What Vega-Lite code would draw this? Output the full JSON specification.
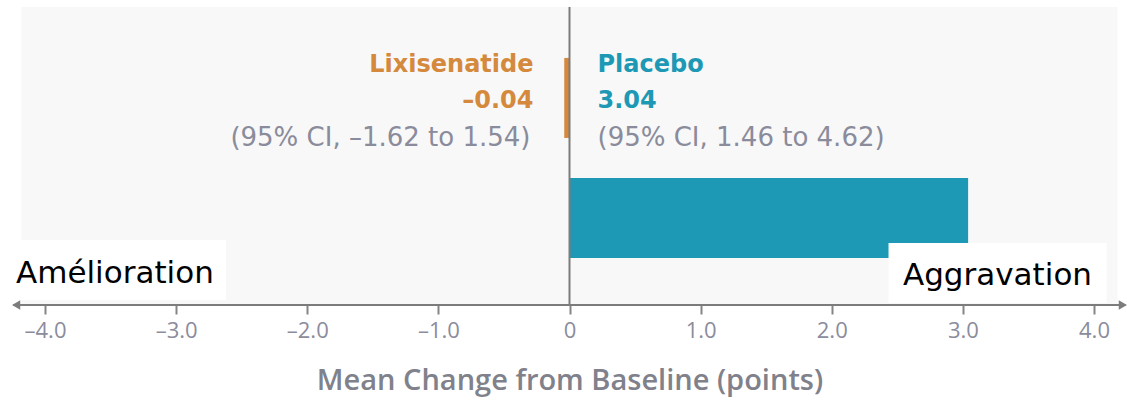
{
  "$schema": "https://vega.github.io/schema/vega-lite/v6.json",
  "autosize": {"type": "none"},
  "width": 1049,
  "height": 298,
  "padding": {"left": 45, "right": 33, "top": 7, "bottom": 104},
  "background": "#ffffff",
  "config": {"view": {"stroke": null}},
  "datasets": {
    "arms": [
      {"arm": "Lixisenatide", "change": -0.04},
      {"arm": "Placebo", "change": 3.04}
    ],
    "labels": [
      {"arm": "Lixisenatide", "name": "Lixisenatide", "value": "–0.04", "ci": "(95% CI, –1.62 to 1.54)"},
      {"arm": "Placebo", "name": "Placebo", "value": "3.04", "ci": "(95% CI, 1.46 to 4.62)"}
    ],
    "notes": [
      {"side": "left", "text": "Amélioration"},
      {"side": "right", "text": "Aggravation"}
    ]
  },
  "encoding": {
    "x": {
      "type": "quantitative",
      "scale": {"domain": [-4, 4], "nice": false},
      "axis": {
        "title": "Mean Change from Baseline (points)",
        "values": [-4, -3, -2, -1, 0, 1, 2, 3, 4],
        "labelExpr": "datum.value === 0 ? '0' : (datum.value < 0 ? '–' + format(-datum.value, '.1f') : format(datum.value, '.1f'))",
        "domain": false,
        "grid": false,
        "ticks": true,
        "tickColor": "#858585",
        "tickWidth": 2,
        "tickSize": 9,
        "labelFont": "Open Sans",
        "labelFontSize": 22,
        "labelColor": "#8b8c9c",
        "labelPadding": 6,
        "labelFlush": false,
        "titleFont": "Open Sans",
        "titleFontWeight": 600,
        "titleFontSize": 29,
        "titleColor": "#80818b",
        "titlePadding": 25
      }
    }
  },
  "layer": [
    {
      "data": {"values": [{}]},
      "mark": {"type": "rect", "color": "#f8f8f8"},
      "encoding": {
        "x": {"datum": -4.18},
        "x2": {"datum": 4.18},
        "y": {"value": 0},
        "y2": {"value": "height"}
      }
    },
    {
      "data": {"name": "arms"},
      "mark": {"type": "bar"},
      "encoding": {
        "x": {"field": "change", "type": "quantitative"},
        "y": {
          "field": "arm",
          "type": "nominal",
          "sort": ["Lixisenatide", "Placebo"],
          "scale": {"paddingInner": 0.3333, "paddingOuter": 0.408, "align": 0.52},
          "axis": null
        },
        "color": {
          "field": "arm",
          "type": "nominal",
          "scale": {"domain": ["Lixisenatide", "Placebo"], "range": ["#d4893d", "#1e99b5"]},
          "legend": null
        }
      }
    },
    {
      "data": {"values": [{}]},
      "mark": {"type": "rule", "color": "#7c7c7c", "strokeWidth": 2},
      "encoding": {
        "x": {"datum": 0},
        "y": {"value": 0},
        "y2": {"value": "height"}
      }
    },
    {
      "data": {"name": "notes"},
      "transform": [{"filter": "datum.side === 'left'"}],
      "mark": {"type": "bar", "color": "#ffffff", "height": 60, "yOffset": 52},
      "encoding": {
        "x": {"datum": -4.24},
        "x2": {"datum": -2.62},
        "y": {"datum": "Placebo"}
      }
    },
    {
      "data": {"name": "notes"},
      "transform": [{"filter": "datum.side === 'right'"}],
      "mark": {"type": "bar", "color": "#ffffff", "height": 60, "yOffset": 55},
      "encoding": {
        "x": {"datum": 2.433},
        "x2": {"datum": 4.096},
        "y": {"datum": "Placebo"}
      }
    },
    {
      "data": {"name": "notes"},
      "transform": [{"filter": "datum.side === 'left'"}],
      "mark": {"type": "text", "align": "left", "baseline": "alphabetic", "dx": -29, "dy": 65, "font": "DejaVu Sans", "fontSize": 31, "color": "#000000"},
      "encoding": {
        "x": {"datum": -4},
        "y": {"datum": "Placebo"},
        "text": {"field": "text"}
      }
    },
    {
      "data": {"name": "notes"},
      "transform": [{"filter": "datum.side === 'right'"}],
      "mark": {"type": "text", "align": "right", "baseline": "alphabetic", "dx": -2, "dy": 67, "font": "DejaVu Sans", "fontSize": 31, "color": "#000000"},
      "encoding": {
        "x": {"datum": 4},
        "y": {"datum": "Placebo"},
        "text": {"field": "text"}
      }
    },
    {
      "data": {"values": [{}]},
      "mark": {"type": "rule", "color": "#7c7c7c", "strokeWidth": 2},
      "encoding": {
        "x": {"datum": -4.24},
        "x2": {"datum": 4.24},
        "y": {"value": "height"}
      }
    },
    {
      "data": {"values": [{}]},
      "mark": {"type": "point", "shape": "triangle-left", "filled": true, "color": "#7c7c7c", "size": 90, "opacity": 1},
      "encoding": {
        "x": {"datum": -4.22},
        "y": {"value": "height"}
      }
    },
    {
      "data": {"values": [{}]},
      "mark": {"type": "point", "shape": "triangle-right", "filled": true, "color": "#7c7c7c", "size": 90, "opacity": 1},
      "encoding": {
        "x": {"datum": 4.22},
        "y": {"value": "height"}
      }
    },
    {
      "data": {"name": "labels"},
      "transform": [{"filter": "datum.arm === 'Lixisenatide'"}],
      "mark": {"type": "text", "align": "right", "baseline": "alphabetic", "dx": -36, "dy": -26, "font": "DejaVu Sans", "fontWeight": "bold", "fontSize": 24},
      "encoding": {
        "x": {"datum": 0},
        "y": {"datum": "Lixisenatide"},
        "text": {"field": "name"},
        "color": {"field": "arm", "type": "nominal"}
      }
    },
    {
      "data": {"name": "labels"},
      "transform": [{"filter": "datum.arm === 'Lixisenatide'"}],
      "mark": {"type": "text", "align": "right", "baseline": "alphabetic", "dx": -36, "dy": 10, "font": "DejaVu Sans", "fontWeight": "bold", "fontSize": 24},
      "encoding": {
        "x": {"datum": 0},
        "y": {"datum": "Lixisenatide"},
        "text": {"field": "value"},
        "color": {"field": "arm", "type": "nominal"}
      }
    },
    {
      "data": {"name": "labels"},
      "transform": [{"filter": "datum.arm === 'Lixisenatide'"}],
      "mark": {"type": "text", "align": "right", "baseline": "alphabetic", "dx": -39, "dy": 48, "font": "DejaVu Sans", "fontSize": 26, "color": "#8a8b9b"},
      "encoding": {
        "x": {"datum": 0},
        "y": {"datum": "Lixisenatide"},
        "text": {"field": "ci"}
      }
    },
    {
      "data": {"name": "labels"},
      "transform": [{"filter": "datum.arm === 'Placebo'"}],
      "mark": {"type": "text", "align": "left", "baseline": "alphabetic", "dx": 28, "dy": -26, "font": "DejaVu Sans", "fontWeight": "bold", "fontSize": 24},
      "encoding": {
        "x": {"datum": 0},
        "y": {"datum": "Lixisenatide"},
        "text": {"field": "name"},
        "color": {"field": "arm", "type": "nominal"}
      }
    },
    {
      "data": {"name": "labels"},
      "transform": [{"filter": "datum.arm === 'Placebo'"}],
      "mark": {"type": "text", "align": "left", "baseline": "alphabetic", "dx": 28, "dy": 10, "font": "DejaVu Sans", "fontWeight": "bold", "fontSize": 24},
      "encoding": {
        "x": {"datum": 0},
        "y": {"datum": "Lixisenatide"},
        "text": {"field": "value"},
        "color": {"field": "arm", "type": "nominal"}
      }
    },
    {
      "data": {"name": "labels"},
      "transform": [{"filter": "datum.arm === 'Placebo'"}],
      "mark": {"type": "text", "align": "left", "baseline": "alphabetic", "dx": 28, "dy": 48, "font": "DejaVu Sans", "fontSize": 26, "color": "#8a8b9b"},
      "encoding": {
        "x": {"datum": 0},
        "y": {"datum": "Lixisenatide"},
        "text": {"field": "ci"}
      }
    }
  ]
}
